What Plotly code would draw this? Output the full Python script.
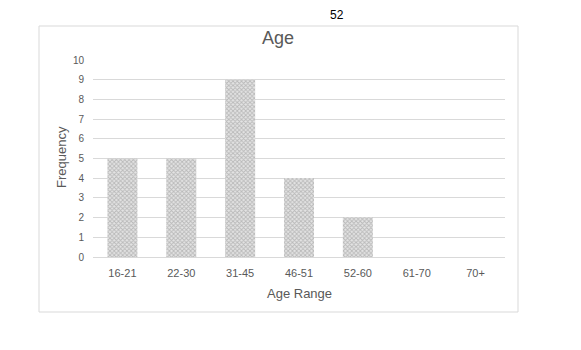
import plotly.graph_objects as go

age_ranges = ["16-21", "22-30", "31-45", "46-51", "52-60", "61-70", "70+"]
frequency = [5, 5, 9, 4, 2, 0, 0]
y_ticks = list(range(0, 11))

GRAY_TEXT = "#595959"
GRID = "#d9d9d9"
FONT = "Liberation Sans, Arial, sans-serif"

# plot area in pixels: x 93..505, y 60..257
L, R, T, B = 93, 76, 60, 93
PW, PH = 581 - L - R, 350 - T - B


def px_x(x):
    return (x - L) / PW


def px_y(y):
    return (350 - B - y) / PH


fig = go.Figure(
    go.Bar(
        x=age_ranges,
        y=frequency,
        marker=dict(
            color="#d0d0d0",
            line=dict(width=0),
            pattern=dict(shape="x", size=3, solidity=0.5,
                         fgcolor="#8c8c8c", bgcolor="#e4e4e4"),
        ),
        hoverinfo="x+y",
    )
)

fig.update_layout(
    width=581,
    height=350,
    margin=dict(l=L, r=R, t=T, b=B, pad=0),
    paper_bgcolor="white",
    plot_bgcolor="white",
    bargap=0.49,
    showlegend=False,
    font=dict(family=FONT, color=GRAY_TEXT),
    title=dict(text="Age", x=278 / 581, xanchor="center",
               y=1 - 38 / 350, yanchor="middle",
               font=dict(size=18, color=GRAY_TEXT, family=FONT)),
    xaxis=dict(
        showgrid=False,
        showline=True,
        linecolor=GRID,
        linewidth=1,
        ticks="",
        tickfont=dict(size=11, color=GRAY_TEXT),
        ticklabelstandoff=6,
        zeroline=False,
    ),
    yaxis=dict(
        range=[0, 10],
        tickvals=y_ticks,
        showgrid=True,
        gridcolor=GRID,
        gridwidth=1,
        zeroline=False,
        showline=False,
        ticks="",
        ticklabelstandoff=8,
        tickfont=dict(size=10, color=GRAY_TEXT),
    ),
    shapes=[
        dict(type="rect", xref="paper", yref="paper",
             x0=px_x(39), x1=px_x(518), y0=px_y(312), y1=px_y(26),
             line=dict(color=GRID, width=1), fillcolor="rgba(0,0,0,0)",
             layer="below"),
    ],
    annotations=[
        dict(text="52", xref="paper", yref="paper", x=px_x(337), y=px_y(15),
             showarrow=False, xanchor="center", yanchor="middle",
             font=dict(size=12, color="black", family=FONT)),
        dict(text="Frequency", xref="paper", yref="paper", x=px_x(61), y=px_y(157),
             showarrow=False, textangle=-90, xanchor="center", yanchor="middle",
             font=dict(size=13, color=GRAY_TEXT, family=FONT)),
        dict(text="Age Range", xref="paper", yref="paper", x=px_x(299), y=px_y(293),
             showarrow=False, xanchor="center", yanchor="middle",
             font=dict(size=13, color=GRAY_TEXT, family=FONT)),
    ],
)

fig.write_html("out.html")
